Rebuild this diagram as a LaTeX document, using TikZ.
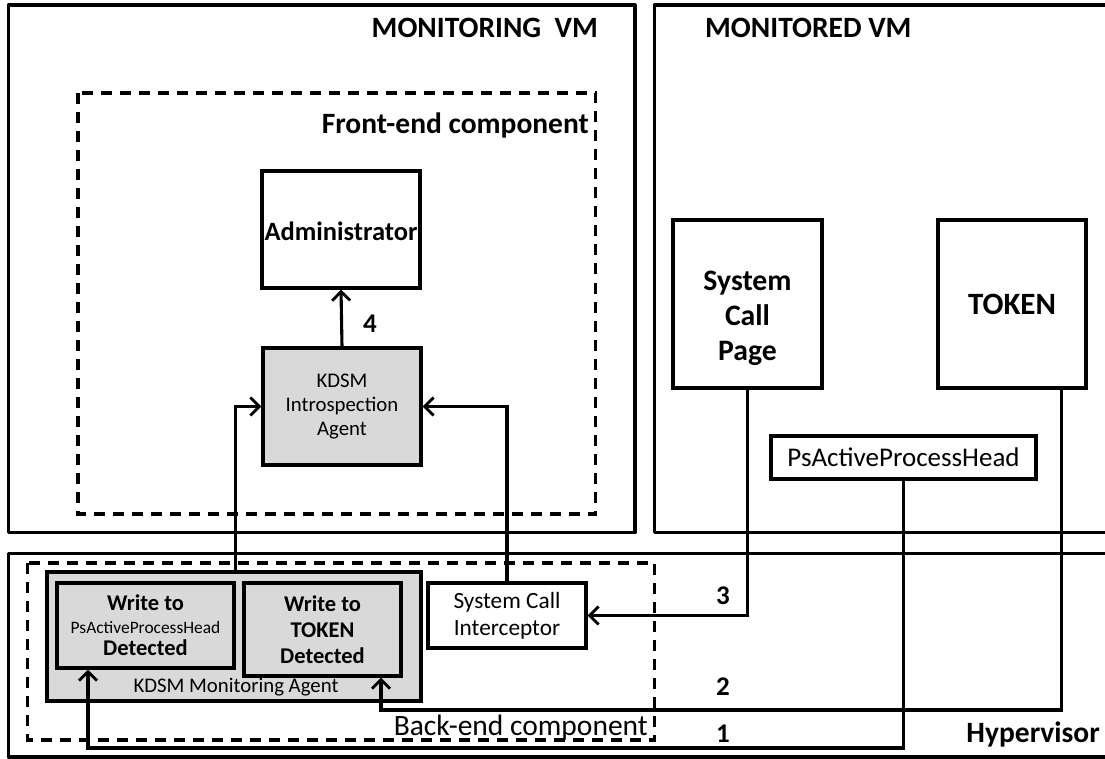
\documentclass[tikz,border=0pt]{standalone}
\usepackage{fontspec}
\setmainfont{Carlito}
\usetikzlibrary{arrows.meta}
\definecolor{boxgray}{HTML}{D9D9D9}
\newcommand{\fsz}[2]{\fontsize{#1}{#2}\selectfont}
\tikzset{
  frame/.style={draw=black, line width=3.2pt, line join=round},
  dashframe/.style={draw=black, line width=3.2pt, dash pattern=on 11pt off 8pt},
  box/.style={draw=black, line width=3.2pt, fill=white, inner sep=0pt, align=center},
  graybox/.style={box, fill=boxgray},
  conn/.style={draw=black, line width=3.1pt, line join=miter},
  arr/.style={conn, -{Straight Barb[length=9pt, width=18pt, line width=2.8pt]}},
  title/.style={inner sep=0pt, font=\bfseries\fsz{29.5}{30}},
  num/.style={inner sep=0pt, anchor=base, font=\bfseries\fsz{27}{27}},
}
\begin{document}
\begin{tikzpicture}[x=1pt, y=-1pt]
\useasboundingbox (0,0) rectangle (1105,759);
\fill[white] (0,0) rectangle (1105,759);

% virtual machines and hypervisor
\draw[frame] (8.5,5) rectangle (635,532.5);
\draw[frame] (1110,5) -- (654.5,5) -- (654.5,532.5) -- (1110,532.5);
\draw[frame] (1110,553.5) -- (8.5,553.5) -- (8.5,757) -- (1110,757);

\node[title, anchor=base east] (monitoring) at (598,38) {MONITORING\ \ VM};
\node[title, anchor=base west] (monitored) at (705,38) {MONITORED VM};
\node[title, anchor=base east] (hyper) at (1100,742) {Hypervisor};

% front-end component
\draw[dashframe] (78,93) rectangle (595.5,514);
\node[title, anchor=base east] (frontlbl) at (589,134) {Front-end component};

\node[box, minimum width=158pt, minimum height=117pt] (admin) at (341,229.5) {};
\node[inner sep=0pt, anchor=base, font=\bfseries\fsz{26.5}{27}] (admintext) at (341,241) {Administrator};
\node[graybox, minimum width=158pt, minimum height=117pt, font=\fsz{20.8}{24}, text width=150pt] (kia) at (342,406.5) {KDSM\\Introspection\\Agent};

% monitored VM contents
\node[box, minimum width=149pt, minimum height=168pt] (scp) at (747.5,304) {};
\node[inner sep=0pt, align=center, font=\bfseries\fsz{29.7}{35}] (scptext) at (747.5,318) {System\\Call\\Page};
\node[box, minimum width=148pt, minimum height=168pt, font=\bfseries\fsz{31}{31}] (tok) at (1012,304) {TOKEN};
\node[box, minimum width=265pt, minimum height=43pt, font=\fsz{27}{27}] (psh) at (903.5,457.5) {PsActiveProcessHead};

% back-end component
\draw[dashframe] (27.5,563) rectangle (654.5,740);
\node[inner sep=0pt, anchor=base east, font=\fsz{29.5}{30}] (backlbl) at (648,735) {Back-end component};

\node[graybox, minimum width=374pt, minimum height=129pt] (ma) at (234,636.5) {};
\node[inner sep=0pt, anchor=base, font=\fsz{20.8}{21}] (malbl) at (236,692) {KDSM Monitoring Agent};
\node[graybox, minimum width=177pt, minimum height=85pt, font=\bfseries\fsz{22.5}{22.5}] (wps) at (145.5,625.5)
  {Write to\\{\mdseries\fsz{17.4}{22.5}PsActiveProcessHead}\\Detected};
\node[graybox, minimum width=157pt, minimum height=93pt, font=\bfseries\fsz{22.5}{26}] (wtk) at (322.5,629.5)
  {Write to\\TOKEN\\Detected};
\node[box, minimum width=158pt, minimum height=65pt, font=\fsz{23.3}{27}] (sci) at (507,615.5)
  {System Call\\Interceptor};

% connectors
\draw[arr] (kia.north) -- (admin.south);
\node[num] (n4) at (370,332) {4};
\draw[arr] (wps.east |- ma.north) |- (kia.west);
\draw[arr] (sci.north) |- (kia.east);

\draw[arr] (scp.south) |- (sci.east);
\node[num] (n3) at (723,604) {3};

\coordinate (tokout) at ([xshift=-26pt]tok.south east);
\coordinate (bend2) at (381,710);
\draw[arr] (tokout) |- (bend2) -- (bend2 |- wtk.south);
\node[num] (n2) at (723,695) {2};

\coordinate (bend1) at (88,748);
\draw[arr] (psh.south) |- (bend1) -- (bend1 |- wps.south);
\node[num] (n1) at (723,742) {1};
\end{tikzpicture}
\end{document}
